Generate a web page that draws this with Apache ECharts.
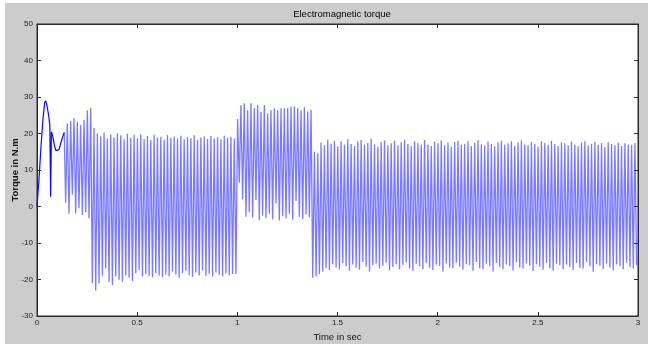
<!DOCTYPE html>
<html>
<head>
<meta charset="utf-8">
<script src="https://cdn.jsdelivr.net/npm/echarts@6/dist/echarts.min.js"></script>
<style>html,body{margin:0;padding:0;background:#fff;}#c{width:648px;height:344px;}</style>
</head>
<body>
<div id="c"></div>
<script>
// ---- data ----
var titleText = "Electromagnetic torque";
var xName = "Time in sec";
var yName = "Torque in N.m";
var xTicks = ["0", "0.5", "1", "1.5", "2", "2.5", "3"];
var yTicks = ["-30", "-20", "-10", "0", "10", "20", "30", "40", "50"];

// start-up transient (time s, torque N.m)
var startT = [0, 0.010, 0.020, 0.030, 0.038, 0.043, 0.050, 0.058, 0.064, 0.068, 0.072, 0.078, 0.086, 0.094, 0.100, 0.110, 0.120, 0.130, 0.136];
var startV = [0, 7.5, 16.5, 24.0, 28.4, 29.0, 27.6, 25.0, 22.3, 2.7, 20.5, 19.4, 17.0, 15.3, 14.9, 15.6, 17.6, 19.4, 20.3];

// ripple: sample every half period (60 Hz) starting at t = 0.143 s, troughs and peaks
var rippleStart = 0.143;
var halfPeriod = 1 / 120;

// 0.14 - 0.28 s
var seg1Troughs = [1.0, -2.0, 3.2, -1.9, -0.5, -2.3, -1.6, -3.2];
var seg1Peaks   = [22.8, 23.4, 24.2, 23.2, 22.3, 23.7, 26.4, 27.0];

// 0.28 - 1.0 s
var seg2Troughs = [-21.0, -23.0, -21.0, -19.0, -17.0, -20.7, -21.5, -19.2, -20.1, -20.6,
                   -18.9, -19.5, -20.4, -18.3, -17.4, -19.2, -18.5, -19.0, -19.4, -18.3,
                   -18.9, -19.3, -18.6, -19.1, -17.8, -18.7, -19.5, -18.2, -17.6, -18.8,
                   -19.3, -18.1, -18.9, -17.5, -19.0, -18.4, -19.2, -18.0, -18.7, -19.1,
                   -18.3, -18.8, -18.5];
var seg2Peaks   = [21.5, 20.0, 19.2, 20.3, 18.6, 19.8, 18.9, 20.1, 19.5, 18.4,
                   19.9, 18.8, 19.6, 18.7, 19.8, 18.5, 19.3, 18.2, 19.7, 18.9,
                   19.1, 18.3, 19.6, 18.8, 19.2, 18.6, 19.4, 18.4, 19.0, 18.7,
                   19.5, 18.3, 18.9, 19.2, 18.5, 19.3, 18.6, 19.0, 18.4, 19.4,
                   18.8, 19.1, 18.6];

// 1.0 - 1.38 s
var seg3Troughs = [-18.5, 6.5, 2.0, -2.8, -1.5, -3.0, 1.8, -3.7, -2.5, -3.2,
                   -1.9, -3.5, 0.8, -3.8, -2.6, -3.3, -2.0, -3.6, 1.5, -2.9,
                   -3.4, -2.2, -3.0];
var seg3Peaks   = [24.0, 27.8, 28.3, 26.4, 28.3, 26.9, 27.8, 25.9, 27.8, 25.5,
                   26.4, 26.9, 26.4, 26.9, 26.9, 26.9, 27.4, 27.4, 26.9, 26.4,
                   27.2, 26.0, 26.5];

// 1.38 - 3.0 s
var seg4Troughs = [-19.5, -19.2, -18.5, -17.8, -16.9, -17.4, -15.8, -16.7, -17.2, -15.5,
                   -16.4, -17.6, -15.9, -16.8, -17.3, -15.2, -16.5, -17.9, -16.1, -15.6,
                   -17.0, -16.3, -15.4, -17.5, -16.6, -15.8, -17.2, -16.0, -15.3, -16.9,
                   -17.7, -15.7, -16.4, -17.1, -15.5, -16.8, -17.4, -15.9, -16.2, -17.8,
                   -15.6, -16.7, -17.0, -15.4, -16.5, -17.3, -15.8, -16.1, -17.6, -15.2,
                   -16.9, -17.2, -15.7, -16.4, -17.8, -15.5, -16.6, -17.1, -15.9, -16.3,
                   -17.5, -15.3, -16.8, -17.0, -15.6, -16.2, -17.7, -15.8, -16.5, -17.3,
                   -15.4, -16.9, -17.6, -15.7, -16.1, -17.2, -15.9, -16.6, -17.4, -15.5,
                   -16.8, -17.0, -15.3, -16.4, -17.9, -15.8, -16.2, -17.1, -15.6, -16.7,
                   -17.5, -15.9, -16.3, -17.2, -15.4, -16.6, -17.0, -16.1];
var seg4Peaks   = [15.0, 14.6, 17.5, 16.8, 18.3, 17.2, 18.0, 16.5, 17.9, 16.9,
                   18.4, 17.1, 16.6, 17.8, 18.2, 16.9, 17.4, 18.6, 17.0, 16.4,
                   17.7, 18.1, 16.8, 17.3, 18.0, 16.7, 17.6, 18.3, 17.1, 16.5,
                   17.9, 17.4, 16.9, 18.2, 17.0, 16.6, 17.8, 17.3, 18.1, 16.8,
                   17.5, 16.4, 17.7, 18.0, 16.9, 17.2, 17.9, 16.6, 17.4, 18.2,
                   17.0, 16.7, 17.8, 17.1, 16.5, 17.6, 18.0, 16.9, 17.3, 17.9,
                   16.6, 17.5, 18.1, 17.0, 16.8, 17.7, 17.2, 16.4, 17.9, 17.4,
                   16.9, 18.0, 17.1, 16.6, 17.6, 17.3, 16.8, 17.8, 17.0, 16.5,
                   17.5, 17.9, 16.7, 17.2, 17.7, 16.9, 17.4, 16.3, 17.6, 17.1,
                   16.8, 17.5, 16.6, 17.3, 17.0, 16.9, 17.4];

// ---- build series ----
var startData = [];
for (var i = 0; i < startT.length; i++) startData.push([startT[i], startV[i]]);
var ripple = [];
[[seg1Troughs, seg1Peaks], [seg2Troughs, seg2Peaks], [seg3Troughs, seg3Peaks], [seg4Troughs, seg4Peaks]].forEach(function (s) {
  for (var k = 0; k < s[0].length; k++) {
    ripple.push(s[0][k]);
    if (k < s[1].length) ripple.push(s[1][k]);
  }
});
var rippleData = [[startT[startT.length - 1], startV[startV.length - 1]]];
for (var j = 0; j < ripple.length; j++) rippleData.push([rippleStart + j * halfPeriod, ripple[j]]);

var chart = echarts.init(document.getElementById('c'), null, {renderer: 'canvas'});
var font = 'Liberation Sans, Arial, sans-serif';
var axisCol = '#2b2b2b';
var tickLbl = {fontSize: 8, color: '#222', fontFamily: font};
chart.setOption({
  animation: false,
  backgroundColor: '#ffffff',
  graphic: [{type: 'rect', z: -10, silent: true, shape: {x: 5, y: 3, width: 643, height: 341}, style: {fill: '#cccccc'}}],
  title: {text: titleText, left: 337, top: 4, textAlign: 'center',
          textStyle: {fontSize: 9.5, fontWeight: 'normal', color: '#000', fontFamily: font}},
  grid: {left: 37, right: 10, top: 24, bottom: 28, outerBoundsMode: 'none', containLabel: false,
         show: true, backgroundColor: '#ffffff', borderColor: axisCol, borderWidth: 1},
  xAxis: [{
    type: 'value', min: 0, max: 3, interval: 0.5,
    name: xName, nameLocation: 'middle', nameGap: 16, nameMoveOverlap: false,
    nameTextStyle: {fontSize: 9.5, color: '#111', fontFamily: font},
    axisLine: {show: true, onZero: false, lineStyle: {color: axisCol}},
    axisTick: {show: true, inside: true, length: 4, lineStyle: {color: axisCol}},
    axisLabel: Object.assign({margin: 3, formatter: function (v) { return xTicks[Math.round(v / 0.5)]; }}, tickLbl),
    splitLine: {show: false}
  }, {
    type: 'value', min: 0, max: 3, interval: 0.5, position: 'top',
    axisLine: {show: true, onZero: false, lineStyle: {color: axisCol}},
    axisTick: {show: true, inside: true, length: 4, lineStyle: {color: axisCol}},
    axisLabel: {show: false}, splitLine: {show: false}
  }],
  yAxis: [{
    type: 'value', min: -30, max: 50, interval: 10,
    name: yName, nameLocation: 'middle', nameGap: 17, nameMoveOverlap: false,
    nameTextStyle: {fontSize: 9.5, fontWeight: 'bold', color: '#111', fontFamily: font},
    axisLine: {show: true, onZero: false, lineStyle: {color: axisCol}},
    axisTick: {show: true, inside: true, length: 4, lineStyle: {color: axisCol}},
    axisLabel: Object.assign({margin: 4, formatter: function (v) { return yTicks[Math.round((v + 30) / 10)]; }}, tickLbl),
    splitLine: {show: false}
  }, {
    type: 'value', min: -30, max: 50, interval: 10, position: 'right',
    axisLine: {show: true, onZero: false, lineStyle: {color: axisCol}},
    axisTick: {show: true, inside: true, length: 4, lineStyle: {color: axisCol}},
    axisLabel: {show: false}, splitLine: {show: false}
  }],
  series: [{
    type: 'line', data: startData, showSymbol: false, symbol: 'none',
    lineStyle: {color: '#0a0aff', width: 1.2}, silent: true, z: 3
  }, {
    type: 'line', data: rippleData, showSymbol: false, symbol: 'none',
    lineStyle: {color: 'rgba(40,40,255,0.62)', width: 1.3}, silent: true, z: 2
  }]
});
</script>
</body>
</html>
